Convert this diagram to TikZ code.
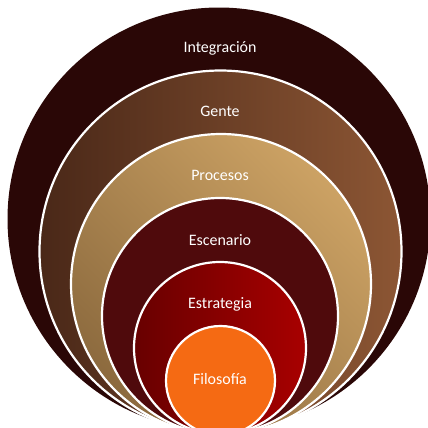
\documentclass[tikz,border=0pt]{standalone}
\usepackage{fontspec}
\setmainfont{Carlito}
\definecolor{cOuter}{RGB}{42,7,6}
\definecolor{cGenteL}{RGB}{74,40,24}
\definecolor{cGenteR}{RGB}{140,86,52}
\definecolor{cProcD}{RGB}{140,106,62}
\definecolor{cProcL}{RGB}{204,162,100}
\definecolor{cEsc}{RGB}{79,10,12}
\definecolor{cEstL}{RGB}{104,0,0}
\definecolor{cEstR}{RGB}{168,0,0}
\definecolor{cFil}{RGB}{245,106,19}
\tikzset{
  ring/.style={draw=white, line width=2.2bp},
  lbl/.style={text=white, font=\fontsize{16}{19}\selectfont, inner sep=0pt}
}
\begin{document}
\begin{tikzpicture}[x=1bp,y=-1bp]
\useasboundingbox (0,0) rectangle (428,428);
\clip (0,0) rectangle (428,428);
\fill[cOuter] (219,219) circle[radius=211.5];
\path[ring, left color=cGenteL, right color=cGenteR] (220.5,251.5) circle[radius=181];
\path[ring, top color=cProcL, bottom color=cProcD, shading angle=-45] (221,284) circle[radius=150];
\path[ring, fill=cEsc] (220,316) circle[radius=118];
\path[ring, left color=cEstL, right color=cEstR] (220,348) circle[radius=86];
\path[ring, fill=cFil] (220.5,380.5) circle[radius=54.5];
\node[lbl] (integ) at (220,48) {Integración};
\node[lbl] (gente) at (220,111) {Gente};
\node[lbl] (proc) at (220,175) {Procesos};
\node[lbl] (esc) at (220,240) {Escenario};
\node[lbl] (estr) at (220,304) {Estrategia};
\node[lbl] (filo) at (220,379) {Filosofía};
\end{tikzpicture}
\end{document}
